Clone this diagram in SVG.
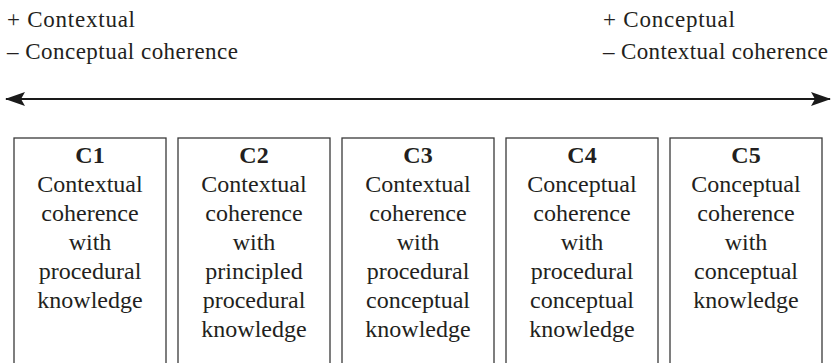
<svg xmlns="http://www.w3.org/2000/svg" width="837" height="363" viewBox="0 0 837 363">
<defs>
<style>
.top{font-size:23px;}
.box{fill:none;stroke:#3a3a3a;stroke-width:1.3;}
.bt{font-size:24px;text-anchor:middle;}
.hd{font-weight:bold;}
</style>
<marker id="ah" viewBox="0 0 20 14" refX="19" refY="7" markerWidth="20" markerHeight="14" markerUnits="userSpaceOnUse" orient="auto-start-reverse">
<path d="M0,0 L20,7 L0,14 L4,7 Z" fill="#1a1a1a"/>
</marker>
</defs>
<g font-family="'Liberation Serif', 'DejaVu Serif', serif" fill="#231f20">
<g id="labels">
<text class="top" x="7" y="27" textLength="128" lengthAdjust="spacing">+ Contextual</text>
<text class="top" x="7" y="59" textLength="231" lengthAdjust="spacing">– Conceptual coherence</text>
<text class="top" x="603" y="27" textLength="132" lengthAdjust="spacing">+ Conceptual</text>
<text class="top" x="603" y="59" textLength="225" lengthAdjust="spacing">– Contextual coherence</text>
</g>
<g id="connectors">
<line x1="6" y1="99" x2="830" y2="99" stroke="#1a1a1a" stroke-width="2.2" marker-start="url(#ah)" marker-end="url(#ah)"/>
</g>
<g id="C1">
<rect class="box" x="14" y="138" width="152" height="240"/>
<text class="bt" x="90"><tspan class="hd" x="90" y="163">C1</tspan><tspan x="90" y="192">Contextual</tspan><tspan x="90" y="221">coherence</tspan><tspan x="90" y="250">with</tspan><tspan x="90" y="279">procedural</tspan><tspan x="90" y="308">knowledge</tspan></text>
</g>
<g id="C2">
<rect class="box" x="178" y="138" width="152" height="240"/>
<text class="bt" x="254"><tspan class="hd" x="254" y="163">C2</tspan><tspan x="254" y="192">Contextual</tspan><tspan x="254" y="221">coherence</tspan><tspan x="254" y="250">with</tspan><tspan x="254" y="279">principled</tspan><tspan x="254" y="308">procedural</tspan><tspan x="254" y="337">knowledge</tspan></text>
</g>
<g id="C3">
<rect class="box" x="342" y="138" width="152" height="240"/>
<text class="bt" x="418"><tspan class="hd" x="418" y="163">C3</tspan><tspan x="418" y="192">Contextual</tspan><tspan x="418" y="221">coherence</tspan><tspan x="418" y="250">with</tspan><tspan x="418" y="279">procedural</tspan><tspan x="418" y="308">conceptual</tspan><tspan x="418" y="337">knowledge</tspan></text>
</g>
<g id="C4">
<rect class="box" x="506" y="138" width="152" height="240"/>
<text class="bt" x="582"><tspan class="hd" x="582" y="163">C4</tspan><tspan x="582" y="192">Conceptual</tspan><tspan x="582" y="221">coherence</tspan><tspan x="582" y="250">with</tspan><tspan x="582" y="279">procedural</tspan><tspan x="582" y="308">conceptual</tspan><tspan x="582" y="337">knowledge</tspan></text>
</g>
<g id="C5">
<rect class="box" x="670" y="138" width="152" height="240"/>
<text class="bt" x="746"><tspan class="hd" x="746" y="163">C5</tspan><tspan x="746" y="192">Conceptual</tspan><tspan x="746" y="221">coherence</tspan><tspan x="746" y="250">with</tspan><tspan x="746" y="279">conceptual</tspan><tspan x="746" y="308">knowledge</tspan></text>
</g>
</g>
</svg>
